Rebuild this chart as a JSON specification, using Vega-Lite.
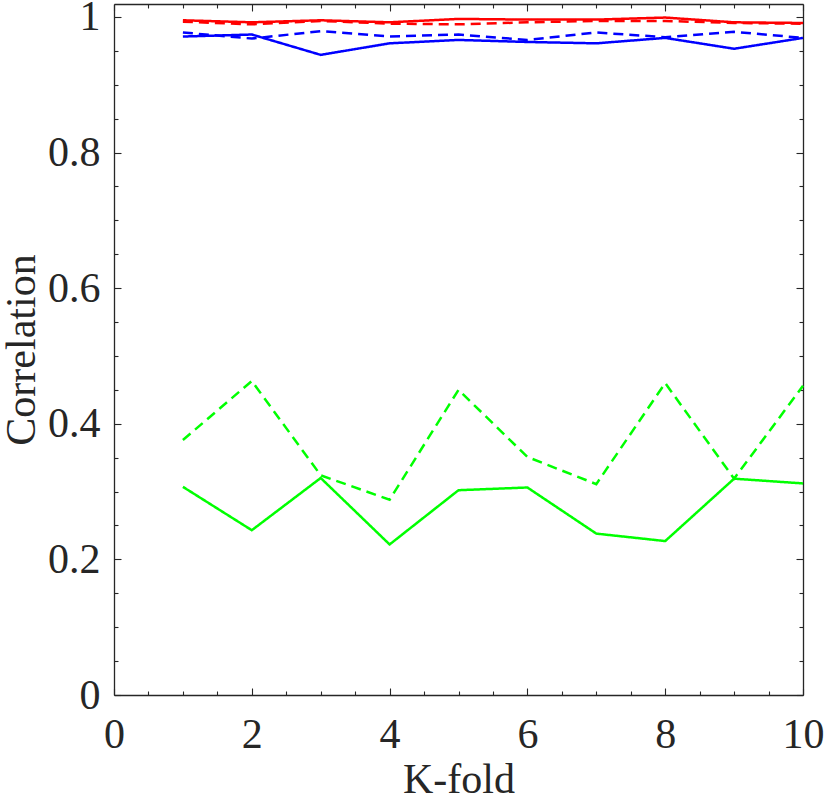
{
  "$schema": "https://vega.github.io/schema/vega-lite/v6.json",
  "width": 689,
  "height": 691,
  "autosize": {"type": "none"},
  "padding": {"left": 114, "top": 4, "right": 27, "bottom": 105},
  "background": "white",
  "config": {
    "view": {"stroke": null},
    "axis": {
      "grid": false,
      "domainColor": "#262626",
      "domainWidth": 1.3,
      "tickColor": "#262626",
      "tickWidth": 1.1,
      "labelFont": "Times New Roman, Liberation Serif, serif",
      "labelFontSize": 42,
      "labelColor": "#262626",
      "labelFlush": false,
      "labelOverlap": false,
      "titleFont": "Times New Roman, Liberation Serif, serif",
      "titleFontSize": 42,
      "titleFontWeight": "normal",
      "titleColor": "#262626"
    }
  },
  "data": {
    "values": [
      {"fold": 1, "method": "M3", "curve": "solid", "corr": 0.307},
      {"fold": 2, "method": "M3", "curve": "solid", "corr": 0.243},
      {"fold": 3, "method": "M3", "curve": "solid", "corr": 0.320},
      {"fold": 4, "method": "M3", "curve": "solid", "corr": 0.222},
      {"fold": 5, "method": "M3", "curve": "solid", "corr": 0.302},
      {"fold": 6, "method": "M3", "curve": "solid", "corr": 0.306},
      {"fold": 7, "method": "M3", "curve": "solid", "corr": 0.238},
      {"fold": 8, "method": "M3", "curve": "solid", "corr": 0.227},
      {"fold": 9, "method": "M3", "curve": "solid", "corr": 0.319},
      {"fold": 10, "method": "M3", "curve": "solid", "corr": 0.312},
      {"fold": 1, "method": "M3", "curve": "dashed", "corr": 0.376},
      {"fold": 2, "method": "M3", "curve": "dashed", "corr": 0.463},
      {"fold": 3, "method": "M3", "curve": "dashed", "corr": 0.324},
      {"fold": 4, "method": "M3", "curve": "dashed", "corr": 0.288},
      {"fold": 5, "method": "M3", "curve": "dashed", "corr": 0.450},
      {"fold": 6, "method": "M3", "curve": "dashed", "corr": 0.351},
      {"fold": 7, "method": "M3", "curve": "dashed", "corr": 0.311},
      {"fold": 8, "method": "M3", "curve": "dashed", "corr": 0.460},
      {"fold": 9, "method": "M3", "curve": "dashed", "corr": 0.319},
      {"fold": 10, "method": "M3", "curve": "dashed", "corr": 0.456},
      {"fold": 1, "method": "M2", "curve": "solid", "corr": 0.971},
      {"fold": 2, "method": "M2", "curve": "solid", "corr": 0.974},
      {"fold": 3, "method": "M2", "curve": "solid", "corr": 0.944},
      {"fold": 4, "method": "M2", "curve": "solid", "corr": 0.961},
      {"fold": 5, "method": "M2", "curve": "solid", "corr": 0.966},
      {"fold": 6, "method": "M2", "curve": "solid", "corr": 0.963},
      {"fold": 7, "method": "M2", "curve": "solid", "corr": 0.961},
      {"fold": 8, "method": "M2", "curve": "solid", "corr": 0.969},
      {"fold": 9, "method": "M2", "curve": "solid", "corr": 0.953},
      {"fold": 10, "method": "M2", "curve": "solid", "corr": 0.969},
      {"fold": 1, "method": "M2", "curve": "dashed", "corr": 0.977},
      {"fold": 2, "method": "M2", "curve": "dashed", "corr": 0.968},
      {"fold": 3, "method": "M2", "curve": "dashed", "corr": 0.979},
      {"fold": 4, "method": "M2", "curve": "dashed", "corr": 0.971},
      {"fold": 5, "method": "M2", "curve": "dashed", "corr": 0.974},
      {"fold": 6, "method": "M2", "curve": "dashed", "corr": 0.966},
      {"fold": 7, "method": "M2", "curve": "dashed", "corr": 0.977},
      {"fold": 8, "method": "M2", "curve": "dashed", "corr": 0.970},
      {"fold": 9, "method": "M2", "curve": "dashed", "corr": 0.978},
      {"fold": 10, "method": "M2", "curve": "dashed", "corr": 0.969},
      {"fold": 1, "method": "M1", "curve": "dashed", "corr": 0.993},
      {"fold": 2, "method": "M1", "curve": "dashed", "corr": 0.989},
      {"fold": 3, "method": "M1", "curve": "dashed", "corr": 0.994},
      {"fold": 4, "method": "M1", "curve": "dashed", "corr": 0.990},
      {"fold": 5, "method": "M1", "curve": "dashed", "corr": 0.989},
      {"fold": 6, "method": "M1", "curve": "dashed", "corr": 0.992},
      {"fold": 7, "method": "M1", "curve": "dashed", "corr": 0.994},
      {"fold": 8, "method": "M1", "curve": "dashed", "corr": 0.994},
      {"fold": 9, "method": "M1", "curve": "dashed", "corr": 0.991},
      {"fold": 10, "method": "M1", "curve": "dashed", "corr": 0.990},
      {"fold": 1, "method": "M1", "curve": "solid", "corr": 0.995},
      {"fold": 2, "method": "M1", "curve": "solid", "corr": 0.992},
      {"fold": 3, "method": "M1", "curve": "solid", "corr": 0.995},
      {"fold": 4, "method": "M1", "curve": "solid", "corr": 0.992},
      {"fold": 5, "method": "M1", "curve": "solid", "corr": 0.997},
      {"fold": 6, "method": "M1", "curve": "solid", "corr": 0.996},
      {"fold": 7, "method": "M1", "curve": "solid", "corr": 0.996},
      {"fold": 8, "method": "M1", "curve": "solid", "corr": 0.999},
      {"fold": 9, "method": "M1", "curve": "solid", "corr": 0.992},
      {"fold": 10, "method": "M1", "curve": "solid", "corr": 0.991}
    ]
  },
  "layer": [
    {
      "mark": {"type": "line", "strokeWidth": 2.5},
      "encoding": {
        "x": {
          "field": "fold",
          "type": "quantitative",
          "scale": {"domain": [0, 10], "nice": false, "zero": false},
          "axis": {
            "orient": "bottom",
            "title": "K-fold",
            "titleX": 344.5,
            "titleY": 97,
            "titleAlign": "center",
            "titleBaseline": "alphabetic",
            "values": [0, 0.5, 1, 1.5, 2, 2.5, 3, 3.5, 4, 4.5, 5, 5.5, 6, 6.5, 7, 7.5, 8, 8.5, 9, 9.5, 10],
            "labelExpr": "datum.value % 2 === 0 ? format(datum.value, '~g') : ''",
            "tickSize": {"condition": {"test": "datum.value % 2 === 0", "value": -7}, "value": -4},
            "labelPadding": 26,
            "labelBaseline": "top"
          }
        },
        "y": {
          "field": "corr",
          "type": "quantitative",
          "scale": {"domain": [0, 1.019], "nice": false, "zero": false},
          "axis": {
            "orient": "left",
            "title": "Correlation",
            "titleX": -80,
            "titleY": 345.5,
            "titleAngle": -90,
            "titleAlign": "center",
            "titleBaseline": "alphabetic",
            "values": [0, 0.05, 0.1, 0.15, 0.2, 0.25, 0.3, 0.35, 0.4, 0.45, 0.5, 0.55, 0.6, 0.65, 0.7, 0.75, 0.8, 0.85, 0.9, 0.95, 1],
            "labelExpr": "abs(datum.value * 5 - round(datum.value * 5)) < 1e-6 ? format(datum.value, '~g') : ''",
            "tickSize": {"condition": {"test": "abs(datum.value * 5 - round(datum.value * 5)) < 1e-6", "value": -7}, "value": -4},
            "labelPadding": 21,
            "labelAlign": "right",
            "labelBaseline": "middle"
          }
        },
        "color": {
          "field": "method",
          "type": "nominal",
          "scale": {"domain": ["M1", "M2", "M3"], "range": ["#ff0000", "#0000ff", "#00ff00"]},
          "legend": null
        },
        "strokeDash": {
          "field": "curve",
          "type": "nominal",
          "scale": {"domain": ["solid", "dashed"], "range": [[1, 0], [10, 6]]},
          "legend": null
        },
        "detail": {"field": "curve"}
      }
    },
    {
      "mark": {"type": "line", "strokeOpacity": 0},
      "encoding": {
        "x": {
          "field": "fold",
          "type": "quantitative",
          "axis": {
            "orient": "top",
            "title": null,
            "labels": false,
            "values": [0, 0.5, 1, 1.5, 2, 2.5, 3, 3.5, 4, 4.5, 5, 5.5, 6, 6.5, 7, 7.5, 8, 8.5, 9, 9.5, 10],
            "tickSize": {"condition": {"test": "datum.value % 2 === 0", "value": -7}, "value": -4}
          }
        },
        "y": {
          "field": "corr",
          "type": "quantitative",
          "axis": {
            "orient": "right",
            "title": null,
            "labels": false,
            "values": [0, 0.05, 0.1, 0.15, 0.2, 0.25, 0.3, 0.35, 0.4, 0.45, 0.5, 0.55, 0.6, 0.65, 0.7, 0.75, 0.8, 0.85, 0.9, 0.95, 1],
            "tickSize": {"condition": {"test": "abs(datum.value * 5 - round(datum.value * 5)) < 1e-6", "value": -7}, "value": -4}
          }
        },
        "detail": {"field": "method"}
      }
    }
  ],
  "resolve": {"axis": {"x": "independent", "y": "independent"}}
}
